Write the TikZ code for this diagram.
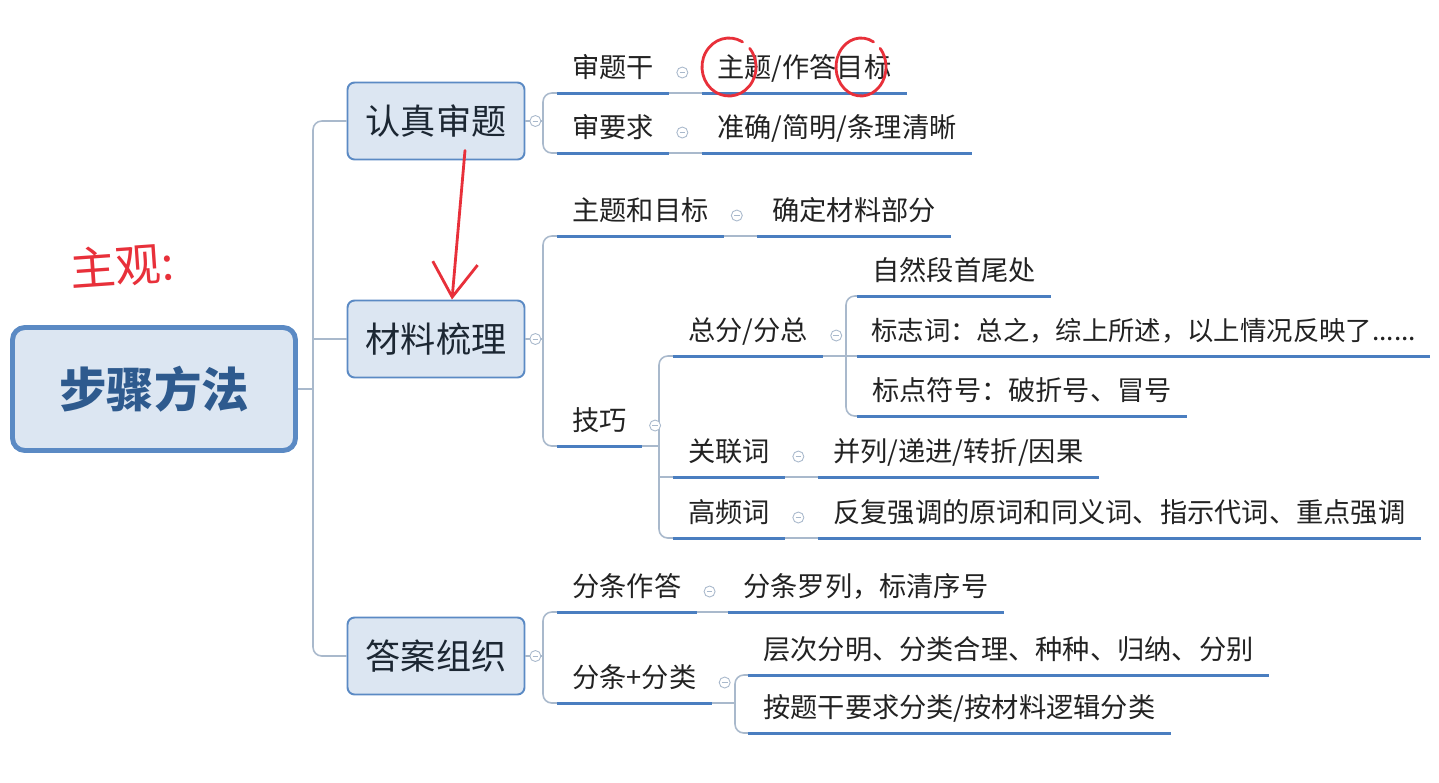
\documentclass[tikz,border=0pt]{standalone}
\usepackage{fontspec}
\setmainfont{Noto Sans CJK SC}
\usetikzlibrary{positioning,arrows.meta}
\definecolor{cajafondo}{HTML}{DCE6F2}
\definecolor{bordeazul}{HTML}{5B8AC4}
\definecolor{raiztexto}{HTML}{2E5A8E}
\definecolor{tematexto}{HTML}{1C2733}
\definecolor{hojatexto}{HTML}{222222}
\definecolor{subrayado}{HTML}{4A7EC0}
\definecolor{ramagris}{HTML}{A9B9CC}
\definecolor{tinta}{HTML}{E8303A}
\begin{document}
\begin{tikzpicture}[x=0.02cm, y=-0.02cm,
    raiz/.style={draw=bordeazul, line width=2.8pt, fill=cajafondo, rounded corners=7pt,
      minimum width=5.66cm, minimum height=2.46cm, text=raiztexto,
      font=\fontsize{27}{27}\selectfont\bfseries},
    tema/.style={draw=bordeazul, line width=1.1pt, fill=cajafondo, rounded corners=4pt,
      minimum width=3.54cm, minimum height=1.54cm, text=tematexto,
      font=\fontsize{20}{20}\selectfont},
    hoja/.style={anchor=south west, inner xsep=0.3cm, inner ysep=0.227cm,
      text height=0.8em, text depth=0.2em, text=hojatexto,
      font=\fontsize{15.5}{15.5}\selectfont},
    linea/.style={draw=subrayado, line width=1.7pt},
    rama/.style={draw=ramagris, line width=0.9pt, rounded corners=5pt},
    pliegue/.style={circle, draw=ramagris, fill=white, line width=0.5pt,
      minimum size=0.22cm, inner sep=0pt,
      path picture={\draw[ramagris, line width=0.5pt]
        ([xshift=-1.6pt]path picture bounding box.center) --
        ([xshift=1.6pt]path picture bounding box.center);}},
    pluma/.style={draw=tinta, line width=1.6pt, line cap=round}]

    % Fondo y margenes
    \fill[white] (0,0) rectangle (1439,782);
    \useasboundingbox (0,0) rectangle (1439,782);

    % Ejes de las ramas
    \coordinate (b0) at (313,0);
    \coordinate (b1) at (543,0);
    \coordinate (b2) at (659,0);
    \coordinate (b3) at (846,0);
    \coordinate (b4) at (735,0);

    % Tema central y temas principales
    \node[raiz] (raiz) at (154,389) {步骤方法};
    \node[tema] (shenti) at (436,121) {认真审题};
    \node[tema] (cailiao) at (436,339) {材料梳理};
    \node[tema] (daan) at (436,656) {答案组织};

    % Subtemas
    \node[hoja] (tigan) at (557,93) {审题干};
    \node[hoja] (mubiao) at (702,93) {主题/作答目标};
    \node[hoja] (yaoqiu) at (557,153) {审要求};
    \node[hoja] (zhunque) at (702,153) {准确/简明/条理清晰};
    \node[hoja] (zhuti) at (557,236) {主题和目标};
    \node[hoja] (queding) at (757,236) {确定材料部分};
    \node[hoja] (jiqiao) at (557,446) {技巧};
    \node[hoja] (zongfen) at (673,356) {总分/分总};
    \node[hoja] (ziran) at (857,296) {自然段首尾处};
    \node[hoja, inner xsep=0.28cm, font=\fontsize{15}{15}\selectfont] (biaozhi) at (857,356)
      {标志词：总之，综上所述，以上情况反映了......};
    \node[hoja] (biaodian) at (857,416) {标点符号：破折号、冒号};
    \node[hoja] (guanlian) at (673,477) {关联词};
    \node[hoja] (binglie) at (818,477) {并列/递进/转折/因果};
    \node[hoja] (gaopin) at (673,538) {高频词};
    \node[hoja] (fanfu) at (818,538) {反复强调的原词和同义词、指示代词、重点强调};
    \node[hoja] (fentiao) at (557,612) {分条作答};
    \node[hoja] (luolie) at (728,612) {分条罗列，标清序号};
    \node[hoja] (fenlei) at (557,703) {分条+分类};
    \node[hoja] (cengci) at (748,675) {层次分明、分类合理、种种、归纳、分别};
    \node[hoja] (antigan) at (748,733) {按题干要求分类/按材料逻辑分类};

    % Ramas desde el tema central
    \draw[rama] (shenti.west) -| (b0 |- daan.west) -- (daan.west);
    \draw[rama] (cailiao.west) -- (cailiao.west -| b0);
    \draw[rama] (raiz.east) -- (raiz.east -| b0);

    % Ramas de 认真审题
    \draw[rama] (tigan.south west) -| (b1 |- yaoqiu.south west) -- (yaoqiu.south west);
    \draw[rama] (shenti.east) -- (shenti.east -| b1);
    \draw[rama] (tigan.south east) -- (mubiao.south west);
    \draw[rama] (yaoqiu.south east) -- (zhunque.south west);

    % Ramas de 材料梳理
    \draw[rama] (zhuti.south west) -| (b1 |- jiqiao.south west) -- (jiqiao.south west);
    \draw[rama] (cailiao.east) -- (cailiao.east -| b1);
    \draw[rama] (zhuti.south east) -- (queding.south west);
    \draw[rama] (zongfen.south west) -| (b2 |- gaopin.south west) -- (gaopin.south west);
    \draw[rama] (guanlian.south west) -- (guanlian.south west -| b2);
    \draw[rama] (jiqiao.south east) -- (jiqiao.south east -| b2);
    \draw[rama] (guanlian.south east) -- (binglie.south west);
    \draw[rama] (gaopin.south east) -- (fanfu.south west);
    \draw[rama] (ziran.south west) -| (b3 |- biaodian.south west) -- (biaodian.south west);
    \draw[rama] (biaozhi.south west) -- (biaozhi.south west -| b3);
    \draw[rama] (zongfen.south east) -- (zongfen.south east -| b3);

    % Ramas de 答案组织
    \draw[rama] (fentiao.south west) -| (b1 |- fenlei.south west) -- (fenlei.south west);
    \draw[rama] (daan.east) -- (daan.east -| b1);
    \draw[rama] (fentiao.south east) -- (luolie.south west);
    \draw[rama] (cengci.south west) -| (b4 |- antigan.south west) -- (antigan.south west);
    \draw[rama] (fenlei.south east) -- (fenlei.south east -| b4);

    % Subrayados
    \foreach \h in {tigan,mubiao,yaoqiu,zhunque,zhuti,queding,jiqiao,zongfen,ziran,
        biaozhi,biaodian,guanlian,binglie,gaopin,fanfu,fentiao,luolie,fenlei,cengci,antigan}
      \draw[linea] (\h.south west) -- (\h.south east);

    % Botones de plegado
    \foreach \t in {shenti,cailiao,daan}
      \node[pliegue, right=0.08cm of \t] (p-\t) {};
    \foreach \h in {tigan,yaoqiu,zhuti,jiqiao,zongfen,guanlian,gaopin,fentiao,fenlei}
      \node[pliegue, right=0.14cm of \h] (p-\h) {};

    % Anotaciones a mano
    \node[text=tinta, font=\fontsize{26}{26}\selectfont, rotate=4] (nota) at (122,266) {主观:};
    \draw[pluma] (729,67) ++(60:0.54cm and 0.58cm)
      arc[start angle=60, end angle=400, x radius=0.54cm, y radius=0.58cm];
    \draw[pluma] (861,67) ++(60:0.5cm and 0.58cm)
      arc[start angle=60, end angle=400, x radius=0.5cm, y radius=0.58cm];
    \draw[pluma, -{Straight Barb[length=0.68cm, width=0.9cm, line width=1.6pt]}]
      ([xshift=0.58cm, yshift=0.2cm]shenti.south) -- ([xshift=0.32cm]cailiao.north);
\end{tikzpicture}
\end{document}
